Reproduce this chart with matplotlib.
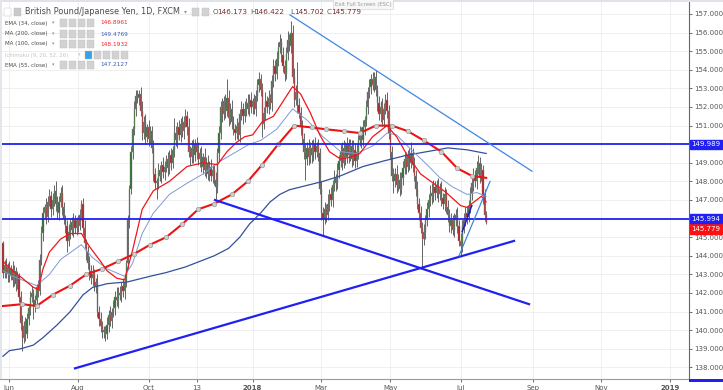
import matplotlib
matplotlib.use("Agg")
import matplotlib.pyplot as plt
import numpy as np
import pandas as pd
from matplotlib.patches import Rectangle
from matplotlib.transforms import blended_transform_factory

W, H = 723, 390

FIRST_DAY = "2017-05-26"
FIRST_OPEN = 144.7

# daily closes, GBP/JPY (FXCM, 1D)
closes = [
    143.1, 143.5, 143.0, 143.4, 142.9, 143.3, 142.7, 143.2, 142.5, 142.9,
    141.8, 140.4, 139.6, 140.2, 139.8, 140.6, 141.2, 141.8, 142.0, 141.3,
    141.6, 142.3, 142.1, 143.8, 145.2, 146.3, 146.6, 146.1, 146.9, 147.2,
    146.5, 147.0, 147.5, 146.8, 146.3, 146.9, 147.4, 146.6, 146.0, 145.6,
    144.8, 145.3, 145.8, 145.4, 145.9, 145.5, 145.9, 145.6, 146.2, 146.8,
    145.5, 144.7, 144.2, 143.6, 143.2, 142.8, 143.0, 142.4, 142.6, 141.0,
    140.6, 140.2, 140.0, 139.9, 139.8, 140.3, 140.8, 140.5, 141.0, 141.2,
    141.8, 141.6, 142.0, 141.9, 142.4, 142.1, 142.6, 143.6, 145.9, 147.6,
    149.6, 150.8, 151.9, 152.6, 152.5, 152.7, 151.8, 150.6, 151.2, 150.4,
    150.9, 150.3, 150.7, 149.8, 148.4, 147.9, 148.0, 148.6, 148.3, 148.9,
    148.5, 148.8, 149.2, 148.7, 149.4, 149.0, 149.7, 150.6, 150.2, 150.9,
    150.5, 151.1, 150.7, 151.2, 151.5, 150.9, 149.6, 149.3, 149.8, 149.4,
    150.0, 149.6, 149.2, 149.5, 148.8, 149.3, 148.6, 149.0, 148.4, 148.8,
    148.3, 148.6, 148.1, 147.7, 149.5, 150.6, 152.0, 151.6, 152.3, 151.8,
    152.5, 151.4, 151.9, 151.2, 150.8, 150.6, 151.0, 150.5, 151.6, 151.9,
    151.5, 151.9, 152.2, 151.9, 152.4, 152.0, 152.3, 151.9, 152.6, 153.2,
    153.5, 152.9, 151.1, 151.7, 152.3, 152.0, 152.5, 152.2, 153.4, 154.2,
    153.8, 154.6, 155.2, 155.5, 154.8, 154.2, 153.8, 154.9, 155.6, 155.3,
    156.0, 153.6, 152.4, 152.8, 152.1, 151.7, 150.9, 150.3, 149.6, 149.2,
    149.8, 149.3, 149.8, 149.4, 150.0, 149.6, 149.9, 149.5, 147.6, 146.3,
    146.0, 146.5, 146.2, 146.8, 147.3, 147.0, 147.8, 148.2, 147.9, 148.6,
    149.1, 149.6, 149.0, 149.8, 149.3, 150.0, 149.4, 149.9, 149.2, 149.7,
    149.1, 149.6, 150.2, 150.6, 150.2, 150.9, 151.3, 152.0, 152.8, 153.1,
    153.5, 153.2, 153.6, 152.9, 152.2, 151.6, 152.0, 151.3, 151.9, 152.4,
    151.8, 150.6, 149.6, 148.3, 148.0, 148.4, 147.8, 148.1, 147.6, 148.2,
    148.7, 149.2, 148.8, 149.4, 149.0, 149.5, 148.9, 148.3, 147.6, 146.8,
    146.3, 145.5, 144.9, 145.3, 145.9, 146.5, 147.0, 147.4, 147.2, 147.7,
    147.4, 147.8, 147.3, 147.6, 147.1, 146.8, 147.3, 146.6, 146.2, 145.6,
    145.9, 145.4, 145.9, 146.2, 145.6, 144.8, 144.5, 145.6, 145.9, 146.3,
    146.1, 146.7, 147.3, 147.9, 148.3, 148.0, 148.7, 149.0, 148.3, 148.6,
    147.2, 146.173, 145.779,
]
upper_wicks = [
    0.1, 0.3, 0.4, 0.2, 0.3, 0.2, 0.4, 0.3, 0.2, 0.3,
    0.2, 0.3, 0.4, 0.3, 0.5, 0.3, 0.2, 0.3, 0.4, 0.2,
    0.3, 0.2, 0.4, 0.3, 0.4, 0.3, 0.2, 0.5, 0.3, 0.4,
    0.3, 0.4, 0.3, 0.5, 0.4, 0.3, 0.3, 0.4, 0.3, 0.2,
    0.3, 0.4, 0.2, 0.3, 0.4, 0.3, 0.2, 0.3, 0.3, 0.2,
    0.3, 0.4, 0.2, 0.3, 0.4, 0.3, 0.5, 0.3, 0.2, 0.4,
    0.3, 0.4, 0.3, 0.2, 0.3, 0.4, 0.3, 0.5, 0.2, 0.4,
    0.3, 0.5, 0.3, 0.4, 0.2, 0.4, 0.3, 0.2, 0.3, 0.2,
    0.3, 0.2, 0.4, 0.3, 0.3, 0.2, 0.4, 0.5, 0.3, 0.4,
    0.2, 0.4, 0.3, 0.3, 0.4, 0.3, 0.2, 0.4, 0.3, 0.2,
    0.4, 0.3, 0.2, 0.4, 0.3, 0.4, 0.2, 0.8, 0.4, 0.3,
    0.4, 0.3, 0.4, 0.3, 0.4, 0.3, 0.5, 0.3, 0.4, 0.5,
    0.3, 0.4, 0.5, 0.3, 0.4, 0.2, 0.5, 0.3, 0.4, 0.3,
    0.4, 0.3, 0.3, 0.4, 0.3, 0.4, 0.3, 0.5, 0.3, 0.4,
    1.0, 0.4, 0.3, 0.5, 0.3, 0.3, 0.4, 0.2, 0.3, 0.4,
    0.3, 0.4, 0.3, 0.5, 0.3, 0.4, 0.2, 0.4, 0.3, 0.3,
    0.4, 0.3, 0.4, 0.3, 0.5, 0.3, 0.4, 0.2, 0.3, 0.4,
    0.3, 0.4, 0.3, 0.4, 0.2, 0.4, 0.3, 0.3, 0.5, 0.3,
    0.6, 0.4, 0.5, 0.4, 1.6, 0.4, 0.3, 0.4, 0.3, 0.4,
    0.3, 0.5, 0.3, 0.4, 0.3, 0.4, 0.2, 0.4, 0.3, 0.4,
    0.3, 0.4, 0.3, 0.5, 0.3, 0.4, 0.3, 0.4, 0.2, 0.4,
    0.3, 0.4, 0.5, 0.4, 0.3, 0.4, 0.3, 0.4, 0.3, 0.5,
    0.3, 0.4, 0.3, 0.4, 0.3, 0.4, 0.2, 0.4, 0.3, 0.4,
    0.3, 0.4, 0.3, 0.4, 0.3, 0.4, 0.3, 0.5, 0.3, 0.3,
    0.4, 0.3, 0.4, 0.3, 0.4, 0.3, 0.5, 0.3, 0.4, 0.3,
    0.4, 0.3, 0.4, 0.3, 0.4, 0.6, 0.3, 0.4, 0.3, 0.4,
    0.3, 0.4, 0.3, 0.4, 0.3, 0.4, 0.3, 0.4, 0.5, 0.4,
    0.3, 0.3, 0.4, 0.3, 0.4, 0.3, 0.4, 0.3, 0.4, 0.3,
    0.4, 0.3, 0.4, 0.3, 0.4, 0.3, 0.4, 0.3, 0.4, 0.3,
    0.4, 0.3, 0.4, 0.3, 0.4, 0.3, 0.4, 0.4, 0.3, 0.4,
    0.3, 0.4, 0.25,
]
lower_wicks = [
    0.3, 0.3, 0.2, 0.4, 0.3, 0.2, 0.4, 0.3, 0.4, 0.3,
    0.3, 0.4, 0.7, 0.3, 0.4, 0.2, 0.3, 0.4, 0.3, 0.7,
    0.3, 0.4, 0.3, 0.2, 0.3, 0.4, 0.3, 0.4, 0.3, 0.2,
    0.4, 0.3, 0.3, 0.4, 0.3, 0.4, 0.3, 0.4, 0.3, 0.4,
    0.6, 0.3, 0.4, 0.3, 0.4, 0.3, 0.4, 0.3, 0.2, 0.3,
    0.4, 0.3, 0.4, 0.3, 0.5, 0.3, 0.4, 0.3, 0.4, 0.3,
    0.4, 0.3, 0.4, 0.3, 0.4, 0.3, 0.4, 0.3, 0.4, 0.3,
    0.4, 0.3, 0.4, 0.3, 0.4, 0.3, 0.4, 0.3, 0.3, 0.4,
    0.3, 0.4, 0.3, 0.4, 0.3, 0.4, 0.3, 0.4, 0.3, 0.4,
    0.3, 0.4, 0.3, 0.3, 0.4, 0.3, 0.85, 0.4, 0.3, 0.4,
    0.3, 0.4, 0.3, 0.4, 0.3, 0.4, 0.3, 0.4, 0.3, 0.4,
    0.3, 0.4, 0.3, 0.4, 0.3, 0.4, 0.3, 0.4, 0.3, 0.4,
    0.3, 0.4, 0.3, 0.4, 0.3, 0.4, 0.3, 0.4, 0.3, 0.4,
    0.3, 0.4, 0.3, 0.65, 0.3, 0.4, 0.3, 0.4, 0.3, 0.4,
    0.3, 0.4, 0.3, 0.4, 0.3, 0.4, 0.3, 0.3, 0.4, 0.3,
    0.4, 0.3, 0.4, 0.3, 0.4, 0.3, 0.4, 0.3, 0.4, 0.3,
    0.4, 0.3, 0.7, 0.3, 0.4, 0.3, 0.4, 0.3, 0.4, 0.3,
    0.4, 0.3, 0.4, 0.3, 0.4, 0.3, 0.4, 0.3, 0.4, 0.3,
    0.4, 0.3, 0.4, 0.3, 0.4, 0.3, 0.4, 0.3, 0.4, 1.1,
    0.3, 0.4, 0.3, 0.4, 0.3, 0.4, 0.3, 0.4, 0.3, 0.4,
    0.9, 0.3, 0.4, 0.3, 0.4, 0.3, 0.4, 0.3, 0.4, 0.3,
    0.4, 0.3, 0.4, 0.3, 0.4, 0.3, 0.4, 0.3, 0.4, 0.3,
    0.4, 0.3, 0.4, 0.3, 0.4, 0.3, 0.4, 0.3, 0.4, 0.3,
    0.4, 0.3, 0.4, 0.3, 0.4, 0.3, 0.4, 0.3, 0.4, 0.3,
    0.4, 0.3, 0.4, 0.3, 0.6, 0.3, 0.4, 0.3, 0.4, 0.3,
    0.4, 0.3, 0.4, 0.3, 0.4, 0.3, 0.4, 0.3, 0.4, 0.3,
    0.4, 0.3, 1.6, 0.3, 0.4, 0.3, 0.4, 0.3, 0.4, 0.3,
    0.4, 0.3, 0.4, 0.3, 0.4, 0.3, 0.4, 0.3, 0.4, 0.3,
    0.4, 0.3, 0.4, 0.3, 0.4, 0.3, 0.5, 0.3, 0.4, 0.3,
    0.4, 0.3, 0.4, 0.3, 0.4, 0.3, 0.4, 0.3, 0.4, 0.3,
    0.4, 0.3, 0.08,
]

# indicators, sampled along the curves (bar index, value)
ema34_bar = [0, 6, 12, 19, 22, 25, 29, 36, 42, 49, 54, 61, 65, 71, 76, 81, 87, 94, 104,
             115, 125, 134, 140, 146, 151, 156, 162, 169, 175, 181, 186, 192, 198, 204,
             211, 217, 223, 231, 240, 246, 252, 261, 269, 277, 286, 290, 299, 302]
ema34_val = [143.7, 143.2, 142.8, 142.3, 142.2, 143.3, 144.2, 144.9, 145.2, 145.2, 144.5,
             143.7, 143.2, 142.8, 142.7, 144.3, 146.5, 147.5, 148.0, 148.8, 149.0, 148.9,
             149.6, 150.1, 150.4, 150.5, 151.2, 151.5, 152.3, 153.1, 152.7, 151.7, 150.5,
             149.6, 149.2, 149.3, 149.5, 150.4, 151.0, 150.4, 149.5, 148.4, 147.9, 147.4,
             146.7, 146.6, 147.2, 146.9]

ema55_bar = [0, 6, 21, 29, 36, 49, 56, 65, 76, 81, 87, 94, 104, 115, 125, 136, 146, 154,
             161, 171, 181, 190, 200, 211, 221, 231, 240, 246, 254, 265, 273, 281, 290,
             296, 302]
ema55_val = [143.2, 142.9, 142.4, 143.0, 143.8, 144.6, 143.9, 143.3, 142.9, 143.6, 145.2,
             146.3, 147.3, 147.9, 148.4, 149.1, 149.6, 150.0, 150.2, 150.8, 151.9, 151.3,
             150.4, 149.6, 149.5, 149.9, 150.6, 150.5, 149.8, 148.9, 148.2, 147.7, 147.3,
             147.4, 147.2]

ma100_bar = [0, 12, 21, 31, 42, 52, 62, 72, 82, 92, 102, 112, 122, 132, 143, 153, 162,
             172, 182, 193, 202, 213, 223, 233, 243, 253, 263, 274, 284, 293, 302]
ma100_val = [141.3, 141.4, 141.3, 141.9, 142.4, 143.0, 143.3, 143.7, 144.1, 144.6, 145.0,
             145.7, 146.5, 146.8, 147.3, 148.0, 148.9, 150.0, 151.0, 150.9, 150.8, 150.7,
             150.6, 151.0, 151.0, 150.7, 150.2, 149.6, 148.7, 148.3, 148.19]

ma200_bar = [0, 4, 11, 19, 25, 34, 42, 50, 56, 65, 78, 92, 102, 114, 123, 132, 141, 148,
             154, 161, 167, 173, 179, 186, 200, 211, 225, 238, 252, 265, 278, 290, 302]
ma200_val = [138.6, 138.9, 139.0, 139.2, 139.6, 140.3, 141.0, 141.9, 142.3, 142.5, 142.6,
             142.9, 143.1, 143.4, 143.7, 144.0, 144.4, 145.0, 145.7, 146.3, 146.9, 147.3,
             147.55, 147.7, 148.0, 148.3, 148.8, 149.1, 149.4, 149.6, 149.8, 149.7, 149.5]

# drawings on the chart
hline_levels = [149.989, 145.994]
trend_thin = [(179.4, 156.95, 330.6, 148.55), (285.0, 144.0, 304.4, 148.0)]
trend_thick = [(132.5, 147.0, 328.75, 141.4), (45.0, 137.95, 319.4, 144.8)]
trend_short = [(287.0, 145.3, 293.0, 146.7)]

price_ticks = list(range(138, 158))
hidden_ticks = [146, 150]  # covered by the line labels

tick_dates = ["2017-06-01", "2017-08-01", "2017-10-02", "2017-11-13", "2018-01-01",
              "2018-03-01", "2018-05-01", "2018-07-02", "2018-09-03", "2018-11-01",
              "2019-01-01"]
tick_labels = ["Jun", "Aug", "Oct", "13", "2018", "Mar", "May", "Jul", "Sep", "Nov", "2019"]

ohlc_keys = ["O", "H", "L", "C"]
ohlc_vals = ["146.173", "146.422", "145.702", "145.779"]

legend_rows = [
    ("EMA (34, close)", "146.8961", "#f2262a", 23),
    ("MA (200, close)", "149.4769", "#3d5fb0", 34),
    ("MA (100, close)", "148.1932", "#f2262a", 44),
    ("EMA (55, close)", "147.2127", "#3d5fb0", 65),
]

BLUE = "#2020f4"
LIGHT_BLUE = "#3f86e4"
GREEN = "#2a6f2a"
RED = "#b51c1c"


def fx(x):
    return x / W


def fy(y):
    return 1 - y / H


def main():
    n = len(closes)
    c = np.array(closes)
    o = np.array([FIRST_OPEN] + closes[:-1])
    hi = np.maximum(o, c) + np.array(upper_wicks)
    lo = np.minimum(o, c) - np.array(lower_wicks)
    bars = np.arange(n)

    all_days = pd.bdate_range(FIRST_DAY, "2019-03-01")
    tick_pos = [all_days.searchsorted(pd.Timestamp(d)) for d in tick_dates]

    fig = plt.figure(figsize=(W / 100, H / 100), dpi=100)
    ax = fig.add_axes([0, fy(379), fx(689), 379 / H])
    ax.set_xlim(-3 / 1.6, (689 - 3) / 1.6)
    ax.set_ylim(157 - 365 / 18.6, 157 + 14 / 18.6)

    ax.set_yticks(price_ticks)
    ax.set_yticklabels(["" if v in hidden_ticks else f"{v:.3f}" for v in price_ticks])
    ax.yaxis.tick_right()
    ax.set_xticks(tick_pos)
    ax.set_xticklabels(tick_labels)
    for lbl in ax.get_xticklabels():
        if lbl.get_text() in ("2018", "2019"):
            lbl.set_fontweight("bold")
    ax.tick_params(axis="both", labelsize=5, colors="#555555", length=2.5, width=0.6, pad=1.5)
    ax.grid(True, color="#ededed", lw=0.6)
    ax.set_axisbelow(True)
    for side in ("top", "left"):
        ax.spines[side].set_visible(False)
    ax.spines["right"].set_color("#666666")
    ax.spines["bottom"].set_color("#999999")
    ax.spines["right"].set_linewidth(0.8)
    ax.spines["bottom"].set_linewidth(0.8)

    # candles
    ax.vlines(bars, lo, hi, color="#3c3c3c", lw=0.55, zorder=2)
    body = np.maximum(np.abs(c - o), 0.04)
    up = c >= o
    ax.bar(bars[up], body[up], bottom=o[up], width=0.75, color=GREEN,
           edgecolor="#8a8a8a", lw=0.3, zorder=3)
    ax.bar(bars[~up], body[~up], bottom=c[~up], width=0.75, color=RED,
           edgecolor="#8a8a8a", lw=0.3, zorder=3)

    # indicators
    ax.plot(ma200_bar, ma200_val, color="#33509c", lw=0.9, zorder=4)
    ax.plot(ema55_bar, ema55_val, color="#8198d8", lw=0.7, zorder=4)
    ax.plot(ema34_bar, ema34_val, color="#f0161b", lw=0.9, zorder=4)
    ax.plot(ma100_bar, ma100_val, color="#ee1212", lw=1.5, zorder=5,
            marker="o", markersize=3.2, markerfacecolor="#cfcfcf",
            markeredgecolor="#9a9a9a", markeredgewidth=0.5,
            markevery=list(range(1, len(ma100_bar) - 1)))

    # drawings
    for lvl in hline_levels:
        ax.axhline(lvl, color=BLUE, lw=1.3, zorder=6)
    for b0, p0, b1, p1 in trend_thick:
        ax.plot([b0, b1], [p0, p1], color=BLUE, lw=1.6, zorder=6)
    for b0, p0, b1, p1 in trend_thin:
        ax.plot([b0, b1], [p0, p1], color=LIGHT_BLUE, lw=0.9, zorder=6)
    for b0, p0, b1, p1 in trend_short:
        ax.plot([b0, b1], [p0, p1], color="#1a1ad0", lw=1.1, zorder=6)

    # price labels on the axis
    tr = blended_transform_factory(fig.transFigure, ax.transData)
    for lvl in hline_levels:
        fig.text(fx(706), lvl, f"{lvl:.3f}", transform=tr, ha="center", va="center",
                 fontsize=5, color="white",
                 bbox=dict(boxstyle="square,pad=0.25", fc=BLUE, ec=BLUE))
    ax.annotate(f"{closes[-1]:.3f}", xy=(fx(706), closes[-1]), xycoords=tr,
                xytext=(0, -4.5), textcoords="offset points", ha="center", va="center",
                fontsize=5, color="white", annotation_clip=False,
                bbox=dict(boxstyle="square,pad=0.25", fc="#ff1010", ec="#ff1010"))
    fig.patches.append(Rectangle((fx(689), fy(382)), fx(34), 3 / H, transform=fig.transFigure,
                                 fc=BLUE, ec="none"))

    # frame strips
    fig.patches.append(Rectangle((0, fy(1.5)), 1, 1.5 / H, transform=fig.transFigure,
                                 fc="#dfe2e8", ec="none"))
    fig.patches.append(Rectangle((0, fy(379)), fx(1.5), 379 / H, transform=fig.transFigure,
                                 fc="#e3e6ea", ec="none"))

    # tooltip
    fig.patches.append(Rectangle((fx(333), fy(9)), fx(60), 10 / H, transform=fig.transFigure,
                                 fc="#f7f7f7", ec="#d6d6d6", lw=0.5))
    fig.text(fx(363), fy(4.5), "Exit Full Screen (ESC)", ha="center", va="center",
             fontsize=3.8, color="#9a9a9a")

    def icon(x, y, size=7, color="#d2d2d2"):
        fig.patches.append(Rectangle((fx(x), fy(y + size / 2)), fx(size), size / H,
                                     transform=fig.transFigure, fc=color, ec="#c0c0c0",
                                     lw=0.3))

    # legend header
    icon(4, 12, size=7, color="#ffffff")
    icon(14, 12, size=7, color="#c9c9c9")
    fig.text(fx(25), fy(12), "British Pound/Japanese Yen, 1D, FXCM", fontsize=5.9,
             color="#4a4a4a", va="center")
    fig.text(fx(184), fy(12), "▾", fontsize=4.2, color="#9a9a9a", va="center")
    icon(192, 12)
    icon(202, 12)
    for key, val, x0 in zip(ohlc_keys, ohlc_vals, [213, 250, 290, 327]):
        fig.text(fx(x0), fy(12), key, fontsize=5.2, color="#5a5a5a", va="center")
        fig.text(fx(x0 + 4.5), fy(12), val, fontsize=5.2, color="#7c2a2a", va="center")

    for name, val, col, y in legend_rows:
        fig.text(fx(5), fy(y), name, fontsize=4.0, color="#4a4a4a", va="center")
        fig.text(fx(52), fy(y), "▾", fontsize=3.6, color="#9a9a9a", va="center")
        for k in range(4):
            icon(60 + k * 9, y)
        fig.text(fx(100), fy(y), val, fontsize=4.2, color=col, va="center")

    fig.text(fx(5), fy(55), "Ichimoku (9, 26, 52, 26)", fontsize=3.8, color="#c4c4c4",
             va="center")
    fig.text(fx(78), fy(55), "▾", fontsize=3.6, color="#c4c4c4", va="center")
    icon(85, 55, color="#3aa0e8")
    for k in range(1, 5):
        icon(85 + k * 9, 55)

    fig.savefig("out.png", dpi=100)
    plt.close(fig)


if __name__ == "__main__":
    main()
